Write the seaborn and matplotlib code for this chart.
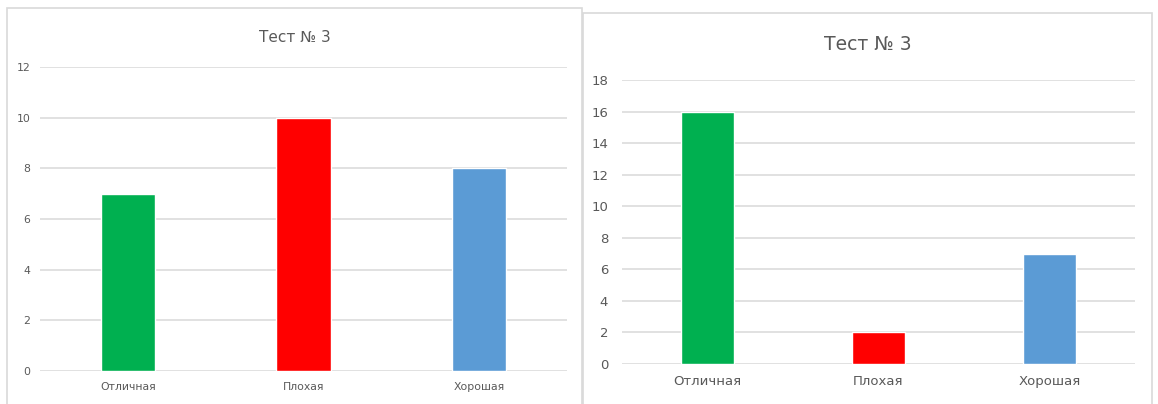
import matplotlib
matplotlib.use("Agg")
import matplotlib.pyplot as plt
import seaborn as sns
import pandas as pd
from matplotlib.patches import Rectangle

categories = ["Отличная", "Плохая", "Хорошая"]
left_values = [7, 10, 8]
right_values = [16, 2, 7]
colors = ["#00B050", "#FF0000", "#5B9BD5"]
title_text = "Тест № 3"
left_ticks = [0, 2, 4, 6, 8, 10, 12]
right_ticks = [0, 2, 4, 6, 8, 10, 12, 14, 16, 18]

sns.set_theme(style="white")
plt.rcParams['font.family'] = ['Liberation Sans Narrow', 'DejaVu Sans']

W, H = 1158, 404
fig = plt.figure(figsize=(W / 100, H / 100), dpi=100)
fig.patch.set_facecolor("white")

def fx(x):
    return x / W

def fy(y):
    return 1 - y / H

# panel frames
fig.add_artist(Rectangle((fx(7), fy(410)), fx(582) - fx(7), fy(8) - fy(410),
                         transform=fig.transFigure, fill=False, edgecolor="#d9d9d9", lw=1.2))
fig.add_artist(Rectangle((fx(583), fy(410)), fx(1152) - fx(583), fy(13) - fy(410),
                         transform=fig.transFigure, fill=False, edgecolor="#d9d9d9", lw=1.2))

text_color = "#595959"
grid_color = "#dcdcdc"

def draw(ax, values, ticks, tick_fs, title_fs, title_y, title_x, ypad):
    df = pd.DataFrame({"cat": categories, "val": values})
    sns.barplot(data=df, x="cat", y="val", hue="cat", palette=colors,
                width=0.31, legend=False, ax=ax, saturation=1)
    ax.set_xlim(-0.5, 2.5)
    ax.set_ylim(ticks[0], ticks[-1])
    ax.set_yticks(ticks)
    ax.set_xlabel("")
    ax.set_ylabel("")
    for s in ax.spines.values():
        s.set_visible(False)
    ax.set_axisbelow(True)
    ax.yaxis.grid(True, color=grid_color, lw=1.2)
    ax.xaxis.grid(False)
    ax.tick_params(axis="both", length=0, colors=text_color, labelsize=tick_fs)
    ax.tick_params(axis="y", pad=ypad)
    ax.tick_params(axis="x", pad=8)
    ax.set_facecolor("none")
    fig.text(title_x, title_y, title_text, ha="center", va="center",
             fontsize=title_fs, color=text_color)

ax1 = fig.add_axes([fx(40), fy(371), fx(567) - fx(40), fy(67) - fy(371)])
draw(ax1, left_values, left_ticks, 7.8, 11, fy(37), fx(295), 7)

ax2 = fig.add_axes([fx(622), fy(364), fx(1135) - fx(622), fy(80) - fy(364)])
draw(ax2, right_values, right_ticks, 9.5, 13.5, fy(45), fx(868), 10)

fig.savefig("out.png", dpi=100, facecolor="white")
